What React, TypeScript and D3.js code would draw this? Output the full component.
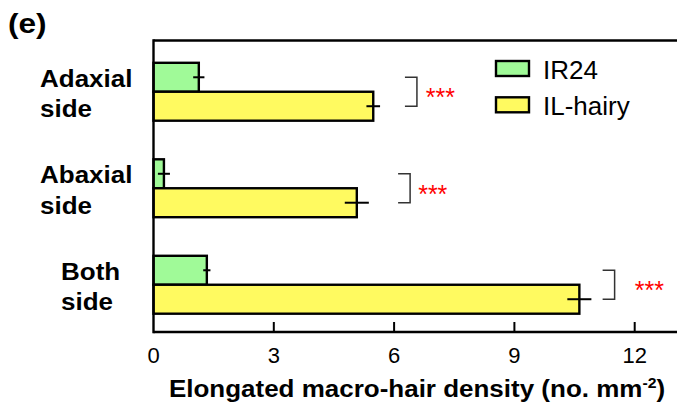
import React from "react";
import * as d3 from "d3";

const categories = ["Adaxial side", "Abaxial side", "Both side"];
const categoryLines = [["Adaxial", "side"], ["Abaxial", "side"], ["Both", "side"]];
const seriesNames = ["IR24", "IL-hairy"];
const ir24Values = [1.13, 0.26, 1.33];
const ir24Errors = [0.14, 0.15, 0.09];
const ilHairyValues = [5.48, 5.07, 10.62];
const ilHairyErrors = [0.17, 0.3, 0.3];
const significance = ["***", "***", "***"];
const bracketX = [6.27, 6.1, 11.2];
const starX = [6.79, 6.6, 12.0];
const xTicks = [0, 3, 6, 9, 12];

const W = 677;
const H = 404;
const FONT = "'Liberation Sans', Arial, Helvetica, sans-serif";
const colors = ["#a0fa98", "#fffa60"];
const BOLD_STRETCH = 1.13;

export default function App() {
  const left = 153.5;
  const top = 40.5;
  const bottom = 332;
  const x = d3.scaleLinear().domain([0, 12]).range([left, 634.7]);
  const y = d3
    .scaleBand<string>()
    .domain(categories)
    .range([43.5, bottom + 1])
    .paddingInner(0.4)
    .paddingOuter(0.2);
  const sub = d3.scaleBand<string>().domain(seriesNames).range([0, y.bandwidth()]).padding(0);
  const values = [ir24Values, ilHairyValues];
  const errors = [ir24Errors, ilHairyErrors];
  const labelLeft = [40, 40, 61];

  return (
    <svg
      width={W}
      height={H}
      style={{ position: "absolute", left: 0, top: 0, display: "block", background: "#fff" }}
      fontFamily={FONT}
    >
      {/* panel label */}
      <text
        transform={`translate(8,33) scale(${BOLD_STRETCH},1)`}
        fontSize={28}
        fontWeight="bold"
        fill="#000"
      >
        (e)
      </text>

      {/* bars */}
      {categories.map((c, i) =>
        seriesNames.map((s, j) => {
          const y0 = (y(c) as number) + (sub(s) as number);
          const v = values[j][i];
          return (
            <rect
              key={c + s}
              x={x(0)}
              y={y0}
              width={x(v) - x(0)}
              height={sub.bandwidth()}
              fill={colors[j]}
              stroke="#000"
              strokeWidth={2.4}
            />
          );
        })
      )}

      {/* error bars */}
      {categories.map((c, i) =>
        seriesNames.map((s, j) => {
          const yc = (y(c) as number) + (sub(s) as number) + sub.bandwidth() / 2;
          const v = values[j][i];
          const e = errors[j][i];
          return (
            <line
              key={"e" + c + s}
              x1={x(v - e)}
              x2={x(v + e)}
              y1={yc}
              y2={yc}
              stroke="#000"
              strokeWidth={2}
            />
          );
        })
      )}

      {/* frame */}
      <line x1={left} x2={W} y1={top} y2={top} stroke="#000" strokeWidth={2.4} />
      <line x1={left} x2={W} y1={bottom} y2={bottom} stroke="#000" strokeWidth={2.4} />
      <line x1={left} x2={left} y1={top - 1.2} y2={bottom + 1.2} stroke="#000" strokeWidth={2.4} />

      {/* ticks */}
      {xTicks.map((t) => (
        <g key={"t" + t}>
          {t !== 0 && (
            <line x1={x(t)} x2={x(t)} y1={bottom} y2={bottom - 10} stroke="#000" strokeWidth={2} />
          )}
          <text x={x(t)} y={362.5} fontSize={22} textAnchor="middle" fill="#000">
            {t}
          </text>
        </g>
      ))}

      {/* axis title */}
      <text
        transform={`translate(417,396.5) scale(${BOLD_STRETCH},1)`}
        fontSize={23}
        fontWeight="bold"
        textAnchor="middle"
        fill="#000"
      >
        Elongated macro-hair density (no. mm
        <tspan fontSize={14} dy={-9}>-2</tspan>
        <tspan dy={9}>)</tspan>
      </text>

      {/* category labels */}
      {categories.map((c, i) => {
        const yc = (y(c) as number) + y.bandwidth() / 2;
        return categoryLines[i].map((line, k) => (
          <text
            key={c + k}
            transform={`translate(${labelLeft[i]},${yc - 5 + k * 30.5}) scale(${BOLD_STRETCH},1)`}
            fontSize={23}
            fontWeight="bold"
            fill="#000"
          >
            {line}
          </text>
        ));
      })}

      {/* significance brackets */}
      {categories.map((c, i) => {
        const y1 = (y(c) as number) + (sub(seriesNames[0]) as number) + sub.bandwidth() / 2;
        const y2 = (y(c) as number) + (sub(seriesNames[1]) as number) + sub.bandwidth() / 2;
        const bx = x(bracketX[i]);
        const path = d3.path();
        path.moveTo(bx, y1);
        path.lineTo(bx + 12, y1);
        path.lineTo(bx + 12, y2);
        path.lineTo(bx, y2);
        const yc = (y1 + y2) / 2;
        return (
          <g key={"b" + c}>
            <path d={path.toString()} fill="none" stroke="#333" strokeWidth={1.5} />
            <text x={x(starX[i])} y={yc + 14.5} fontSize={25} fill="#ff0000">
              {significance[i]}
            </text>
          </g>
        );
      })}

      {/* legend */}
      {seriesNames.map((s, j) => (
        <g key={"l" + s}>
          <rect
            x={496}
            y={61 + j * 36.3}
            width={33}
            height={15}
            fill={colors[j]}
            stroke="#000"
            strokeWidth={2.4}
          />
          <text x={543} y={78.5 + j * 36.3} fontSize={26} fill="#000">
            {s}
          </text>
        </g>
      ))}
    </svg>
  );
}
